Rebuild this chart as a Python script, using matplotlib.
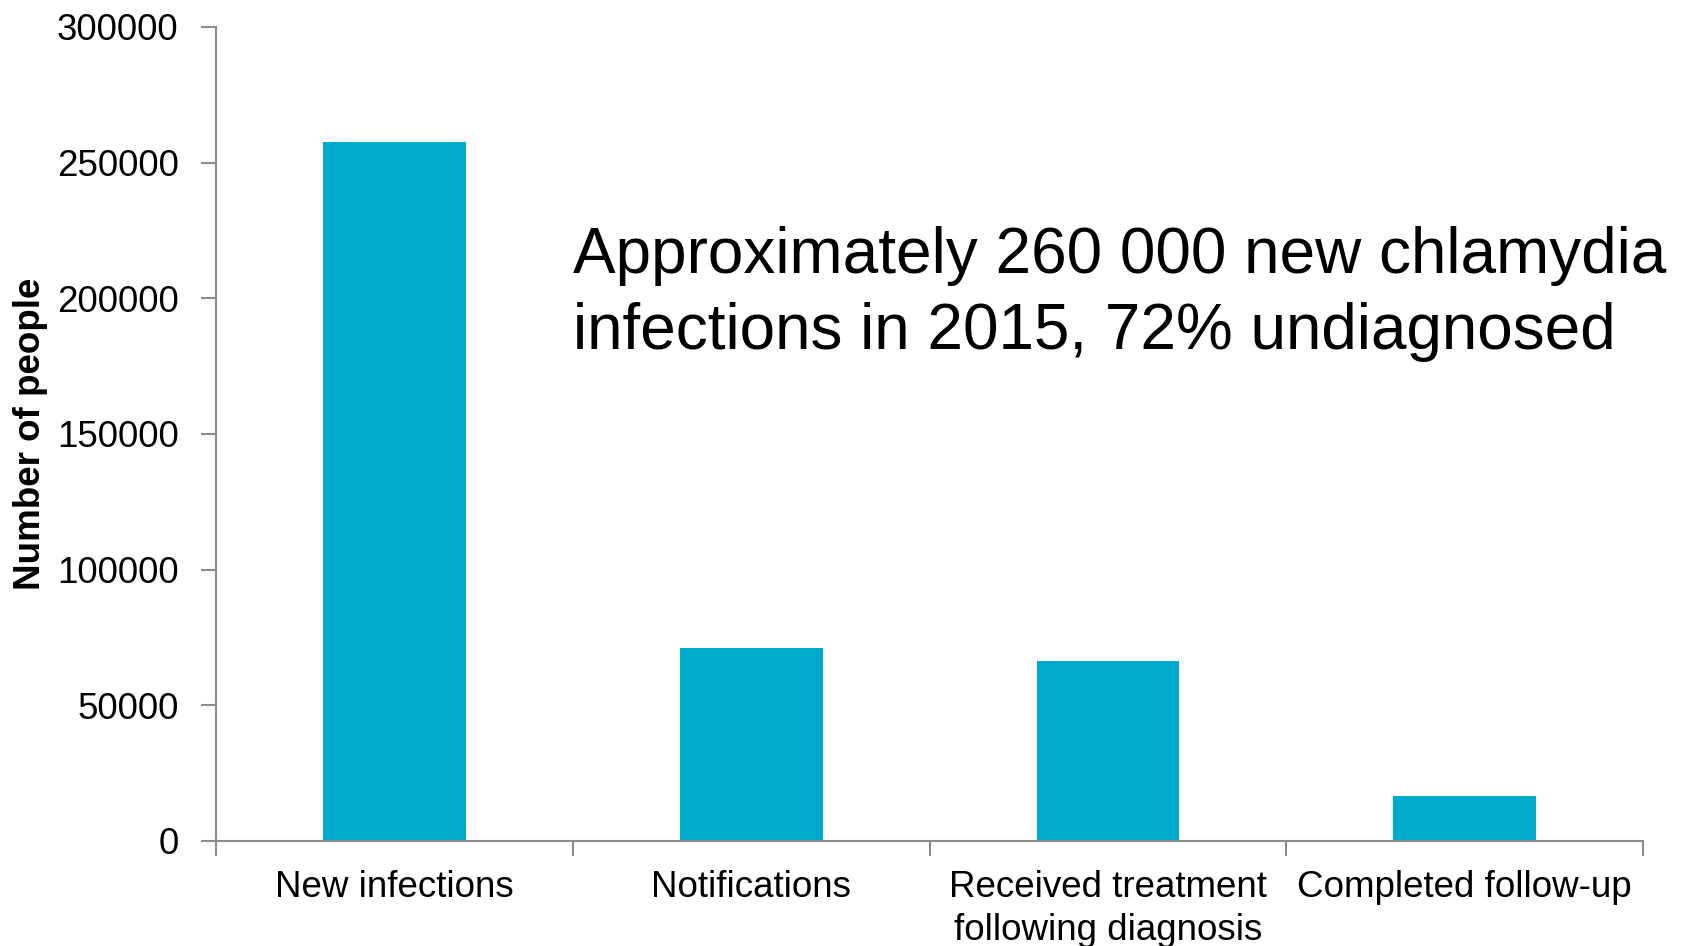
import matplotlib
matplotlib.use('Agg')
from matplotlib import pyplot as plt
import numpy as np

# Chlamydia cascade, 2015
categories = ['New infections', 'Notifications',
              'Received treatment\nfollowing diagnosis', 'Completed follow-up']
people = [257500, 71000, 66200, 16700]
yticks = [0, 50000, 100000, 150000, 200000, 250000, 300000]
note = 'Approximately 260 000 new chlamydia\ninfections in 2015, 72% undiagnosed'

plt.rcParams['font.family'] = ['Liberation Sans', 'DejaVu Sans']
bar_color = '#00AACC'
axis_color = '#8c8c8c'

fig = plt.figure(figsize=(16.84, 9.46), dpi=100)
ax = fig.add_axes([0.1283, 0.111, 0.8474, 0.8605])

x = np.arange(len(categories))
ax.bar(x, people, width=0.4, color=bar_color)

ax.set_xlim(-0.5, len(categories) - 0.5)
ax.set_ylim(0, 300000)
ax.set_yticks(yticks)
ax.set_yticklabels([str(v) for v in yticks], fontsize=26.5)

# category names in the middle, tick marks on the boundaries
ax.set_xticks(x)
ax.set_xticklabels(categories, fontsize=26.5, linespacing=1.3)
ax.set_xticks(np.arange(len(categories) + 1) - 0.5, minor=True)
ax.tick_params(axis='x', which='major', length=0, pad=21)
ax.tick_params(axis='x', which='minor', length=11, width=1.5, color=axis_color)
ax.tick_params(axis='y', length=11, width=1.5, color=axis_color, pad=16)

for side in ['top', 'right']:
    ax.spines[side].set_visible(False)
for side in ['left', 'bottom']:
    ax.spines[side].set_color(axis_color)
    ax.spines[side].set_linewidth(1.5)

ax.set_ylabel('Number of people', fontsize=26.5, fontweight='bold', labelpad=6)

ax.text(0.5, 201500, note, fontsize=46, ha='left', va='center', linespacing=1.34)

fig.savefig('out.png', dpi=100)
